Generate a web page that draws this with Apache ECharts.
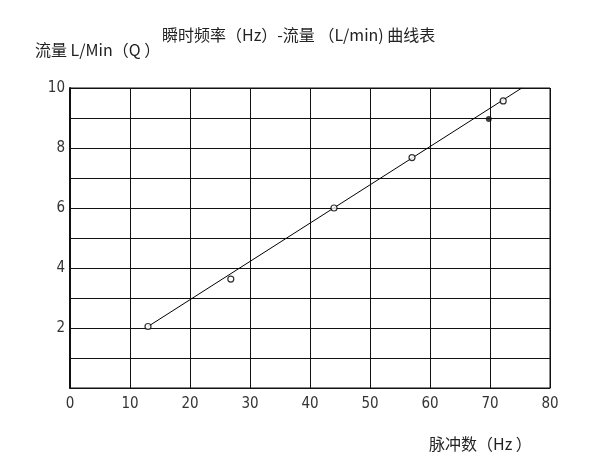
<!DOCTYPE html>
<html><head><meta charset="utf-8">
<script src="https://cdn.jsdelivr.net/npm/echarts@6/dist/echarts.min.js"></script>
<style>html,body{margin:0;padding:0;background:#fff}#c{width:595px;height:468px}</style>
</head><body><div id="c"></div>
<script>
const titleText = '瞬时频率（Hz）-流量 （L/min) 曲线表';
const yName = '流量 L/Min（Q ）';
const xName = '脉冲数（Hz ）';
const openPointsX = [13, 26.8, 44, 57, 72.2];
const openPointsY = [2.05, 3.63, 6.0, 7.68, 9.57];
const filledPointsX = [69.8];
const filledPointsY = [8.97];
const fitLineX = [13, 75.3];
const fitLineY = [2.05, 10];
const yTickLabels = ['2', '4', '6', '8', '10'];

const zip = (a, b) => a.map((v, i) => [v, b[i]]);
const cjk = '"Noto Sans CJK SC", "DejaVu Sans", sans-serif';
const num = '"DejaVu Sans Condensed", "DejaVu Sans", sans-serif';
const chart = echarts.init(document.getElementById('c'), null, {renderer: 'canvas'});
chart.setOption({
  animation: false,
  backgroundColor: '#fff',
  title: [
    {text: titleText, left: 157, top: 22, textStyle: {fontFamily: cjk, fontSize: 16, fontWeight: 'normal', color: '#222'}},
    {text: yName, left: 30, top: 37, textStyle: {fontFamily: cjk, fontSize: 16, fontWeight: 'normal', color: '#222'}},
    {text: xName, left: 424, top: 431, textStyle: {fontFamily: cjk, fontSize: 16, fontWeight: 'normal', color: '#222'}}
  ],
  grid: {left: 70, right: 45, top: 88, bottom: 80, show: true, borderColor: '#111', borderWidth: 1},
  xAxis: {
    type: 'value', min: 0, max: 80, interval: 10,
    axisLine: {show: true, onZero: false, lineStyle: {color: '#111', width: 1}},
    axisTick: {show: false},
    axisLabel: {fontFamily: num, fontSize: 15, color: '#333', margin: 9,
      formatter: v => String(v), align: 'center'},
    splitLine: {show: true, lineStyle: {color: '#111', width: 1}}
  },
  yAxis: {
    type: 'value', min: 0, max: 10, interval: 1,
    axisLine: {show: true, onZero: false, lineStyle: {color: '#111', width: 2}},
    axisTick: {show: false},
    axisLabel: {fontFamily: num, fontSize: 15, color: '#333', margin: 5,
      formatter: v => yTickLabels.includes(String(v)) ? String(v) : ''},
    splitLine: {show: true, lineStyle: {color: '#111', width: 1}}
  },
  series: [
    {type: 'line', data: zip(fitLineX, fitLineY), symbol: 'none', lineStyle: {color: '#000', width: 1}, silent: true, z: 3},
    {type: 'scatter', data: zip(openPointsX, openPointsY), symbol: 'circle', symbolSize: 6,
      itemStyle: {color: '#fff', borderColor: '#000', borderWidth: 1.2}, z: 4},
    {type: 'scatter', data: zip(filledPointsX, filledPointsY), symbol: 'circle', symbolSize: 6,
      itemStyle: {color: '#111', borderColor: '#111', borderWidth: 0}, z: 4}
  ]
});
</script></body></html>
